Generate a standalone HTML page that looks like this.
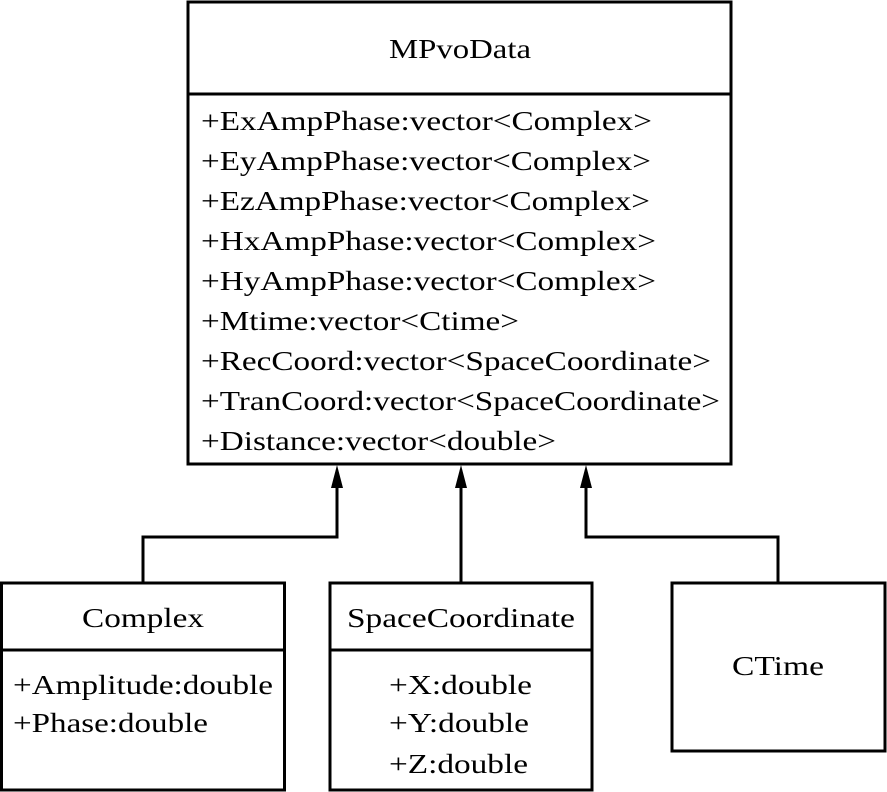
<!DOCTYPE html>
<html><head><meta charset="utf-8"><style>html,body{margin:0;padding:0;background:#fff}svg{display:block}
svg text{font-family:"Liberation Serif","Times New Roman",serif;font-size:27px;fill:#000}</style></head><body>
<svg width="887" height="792" viewBox="0 0 887 792" xmlns="http://www.w3.org/2000/svg">
<g fill="none" stroke="#000" stroke-width="3">
<rect x="188" y="2" width="543" height="462"/>
<line x1="188" y1="94" x2="731" y2="94"/>
<rect x="1.5" y="583" width="283" height="207"/>
<line x1="1.5" y1="650" x2="284.5" y2="650"/>
<rect x="330" y="583" width="262" height="207"/>
<line x1="330" y1="650" x2="592" y2="650"/>
<rect x="672" y="583" width="213" height="168"/>
<polyline points="143,583 143,537 337,537 337,485"/>
<line x1="461" y1="583" x2="461" y2="485"/>
<polyline points="778,583 778,537 586,537 586,485"/>
</g>
<polygon points="337,465 331,488 343,488"/>
<polygon points="461,465 455,488 467,488"/>
<polygon points="586,465 580,488 592,488"/>
<text x="389" y="58" textLength="142" lengthAdjust="spacingAndGlyphs">MPvoData</text>
<text x="201" y="130" textLength="451" lengthAdjust="spacingAndGlyphs">+ExAmpPhase:vector&lt;Complex&gt;</text>
<text x="201" y="170" textLength="450" lengthAdjust="spacingAndGlyphs">+EyAmpPhase:vector&lt;Complex&gt;</text>
<text x="201" y="210" textLength="449" lengthAdjust="spacingAndGlyphs">+EzAmpPhase:vector&lt;Complex&gt;</text>
<text x="201" y="250" textLength="455" lengthAdjust="spacingAndGlyphs">+HxAmpPhase:vector&lt;Complex&gt;</text>
<text x="201" y="290" textLength="455" lengthAdjust="spacingAndGlyphs">+HyAmpPhase:vector&lt;Complex&gt;</text>
<text x="201" y="330" textLength="318" lengthAdjust="spacingAndGlyphs">+Mtime:vector&lt;Ctime&gt;</text>
<text x="201" y="370" textLength="510" lengthAdjust="spacingAndGlyphs">+RecCoord:vector&lt;SpaceCoordinate&gt;</text>
<text x="201" y="410" textLength="519" lengthAdjust="spacingAndGlyphs">+TranCoord:vector&lt;SpaceCoordinate&gt;</text>
<text x="201" y="450" textLength="355" lengthAdjust="spacingAndGlyphs">+Distance:vector&lt;double&gt;</text>
<text x="82" y="627" textLength="122" lengthAdjust="spacingAndGlyphs">Complex</text>
<text x="13" y="694" textLength="260" lengthAdjust="spacingAndGlyphs">+Amplitude:double</text>
<text x="13" y="732" textLength="195" lengthAdjust="spacingAndGlyphs">+Phase:double</text>
<text x="347" y="627" textLength="228" lengthAdjust="spacingAndGlyphs">SpaceCoordinate</text>
<text x="389" y="694" textLength="143" lengthAdjust="spacingAndGlyphs">+X:double</text>
<text x="389" y="732" textLength="140" lengthAdjust="spacingAndGlyphs">+Y:double</text>
<text x="389" y="773" textLength="139" lengthAdjust="spacingAndGlyphs">+Z:double</text>
<text x="732" y="675" textLength="92" lengthAdjust="spacingAndGlyphs">CTime</text>
</svg>
</body></html>
